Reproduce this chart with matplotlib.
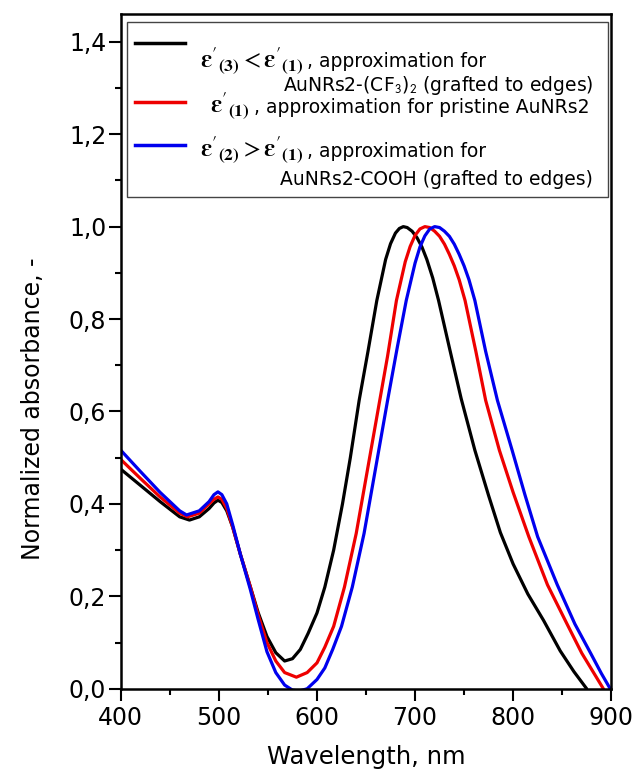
import matplotlib
matplotlib.use("Agg")
import matplotlib.pyplot as plt
from matplotlib.patches import Rectangle
from matplotlib.lines import Line2D
from matplotlib.ticker import MultipleLocator

plt.rcParams['font.family'] = ['DejaVu Sans']
plt.rcParams['mathtext.fontset'] = 'stix'

# ---------------- data ----------------
wl_black = [400, 420, 440, 460, 470, 480, 490, 495, 499, 503, 508, 514, 522, 532, 540, 549,
            558, 567, 575, 583, 591, 600, 608, 617, 626, 634, 643, 652, 661, 670, 675, 680,
            684, 688, 692, 697, 702, 707, 712, 718, 724, 735, 747, 761, 775, 787, 800, 815,
            831, 848, 862, 875]
abs_black = [0.475, 0.44, 0.405, 0.372, 0.365, 0.372, 0.39, 0.402, 0.408, 0.403, 0.385, 0.35,
             0.29, 0.221, 0.165, 0.113, 0.078, 0.060, 0.065, 0.085, 0.12, 0.164, 0.22, 0.30,
             0.40, 0.50, 0.624, 0.73, 0.84, 0.929, 0.963, 0.986, 0.996, 1.0, 0.998, 0.99,
             0.976, 0.956, 0.929, 0.889, 0.84, 0.738, 0.628, 0.516, 0.418, 0.338, 0.27, 0.205,
             0.148, 0.082, 0.037, 0.0]

wl_red = [400, 420, 440, 460, 468, 480, 490, 495, 499, 503, 508, 514, 522, 532, 540, 549, 558,
          567, 579, 590, 600, 608, 617, 628, 640, 652, 664, 672, 681, 690, 695, 700, 705, 710,
          715, 720, 725, 730, 735, 740, 745, 751, 762, 772, 786, 800, 816, 835, 855, 870, 882,
          892]
abs_red = [0.496, 0.455, 0.415, 0.38, 0.372, 0.38, 0.40, 0.41, 0.415, 0.41, 0.39, 0.35, 0.29,
           0.221, 0.16, 0.10, 0.06, 0.035, 0.025, 0.035, 0.056, 0.09, 0.135, 0.22, 0.336, 0.48,
           0.624, 0.72, 0.84, 0.924, 0.957, 0.981, 0.995, 1.0, 0.998, 0.99, 0.979, 0.962,
           0.94, 0.915, 0.885, 0.84, 0.73, 0.624, 0.516, 0.425, 0.329, 0.225, 0.14, 0.077,
           0.035, 0.0]

wl_blue = [400, 420, 440, 460, 467, 480, 490, 495, 499, 503, 508, 514, 522, 532, 540, 549, 558,
           567, 575, 582, 590, 600, 608, 616, 625, 636, 648, 660, 672, 682, 691, 700, 705, 710,
           715, 720, 725, 730, 735, 740, 745, 750, 755, 761, 772, 784, 799, 812, 825, 845, 863,
           879, 890, 899]
abs_blue = [0.516, 0.47, 0.425, 0.385, 0.376, 0.385, 0.405, 0.42, 0.426, 0.42, 0.40, 0.355,
            0.29, 0.215, 0.15, 0.08, 0.035, 0.008, -0.003, -0.005, 0.0, 0.02, 0.045, 0.085,
            0.135, 0.22, 0.336, 0.48, 0.624, 0.74, 0.84, 0.921, 0.956, 0.98, 0.995, 1.0, 0.998,
            0.99, 0.979, 0.962, 0.94, 0.915, 0.885, 0.84, 0.73, 0.624, 0.516, 0.42, 0.329,
            0.225, 0.14, 0.077, 0.033, 0.0]

x_ticks = [400, 500, 600, 700, 800, 900]
x_ticklabels = ["400", "500", "600", "700", "800", "900"]
y_ticks = [0.0, 0.2, 0.4, 0.6, 0.8, 1.0, 1.2, 1.4]
y_ticklabels = ["0,0", "0,2", "0,4", "0,6", "0,8", "1,0", "1,2", "1,4"]

legend_math = [r"$\boldsymbol{\varepsilon}'_{\mathbf{(3)}} < \boldsymbol{\varepsilon}'_{\mathbf{(1)}}$",
               r"$\boldsymbol{\varepsilon}'_{\mathbf{(1)}}$",
               r"$\boldsymbol{\varepsilon}'_{\mathbf{(2)}} > \boldsymbol{\varepsilon}'_{\mathbf{(1)}}$"]
legend_rest = [" , approximation for",
               " , approximation for pristine AuNRs2",
               " , approximation for"]
legend_line2 = [r"AuNRs2-(CF$_\mathsf{3}$)$_\mathsf{2}$ (grafted to edges)",
                None,
                "AuNRs2-COOH (grafted to edges)"]
colors = ["#000000", "#ee0000", "#0000ee"]

# ---------------- figure ----------------
fig = plt.figure(figsize=(6.36, 7.80), dpi=100)
ax = fig.add_axes([0.190, 0.117, 0.771, 0.865])

for wl, ab, c in [(wl_black, abs_black, colors[0]),
                  (wl_red, abs_red, colors[1]),
                  (wl_blue, abs_blue, colors[2])]:
    ax.plot(wl, ab, color=c, lw=2.3, solid_joinstyle='round', solid_capstyle='round')

ax.set_xlim(400, 900)
ax.set_ylim(0, 1.46)
ax.set_xticks(x_ticks)
ax.set_xticklabels(x_ticklabels)
ax.set_yticks(y_ticks)
ax.set_yticklabels(y_ticklabels)
ax.xaxis.set_minor_locator(MultipleLocator(50))
ax.yaxis.set_minor_locator(MultipleLocator(0.1))
ax.tick_params(which='major', direction='out', length=8.5, width=1.5, labelsize=17, pad=4)
ax.tick_params(which='minor', direction='out', length=4.5, width=1.5)
ax.tick_params(axis='y', which='major', pad=2)
ax.tick_params(top=False, right=False, which='both')
for s in ax.spines.values():
    s.set_linewidth(1.8)

ax.set_xlabel("Wavelength, nm", fontsize=17.5)
ax.set_ylabel("Normalized absorbance, -", fontsize=17)
ax.xaxis.set_label_coords(0.5, -0.083)
ax.yaxis.set_label_coords(-0.155, 0.415)

# ---------------- legend (manual, to reproduce the layout) ----------------
ax.add_patch(Rectangle((0.012, 0.729), 0.982, 0.259, transform=ax.transAxes,
                       fill=True, facecolor='white', edgecolor='#444444', lw=1.0, zorder=5))
handle_y = [0.957, 0.870, 0.806]
for y, c in zip(handle_y, colors):
    ax.add_line(Line2D([0.029, 0.131], [y, y], transform=ax.transAxes, color=c, lw=2.5, zorder=6))

math_pos = [(0.161, 0.921), (0.182, 0.854), (0.161, 0.788)]
math_texts = []
for (x, y), m in zip(math_pos, legend_math):
    math_texts.append(ax.text(x, y, m, transform=ax.transAxes, fontsize=18,
                              va='baseline', ha='left', zorder=7))
fig.canvas.draw()
renderer = fig.canvas.get_renderer()
inv = ax.transAxes.inverted()
for t, (x, y), r in zip(math_texts, math_pos, legend_rest):
    bb = t.get_window_extent(renderer)
    x1 = inv.transform((bb.x1, bb.y0))[0]
    ax.text(x1 - 0.004, y, r, transform=ax.transAxes, fontsize=13.5, va='baseline', ha='left', zorder=7)

ax.text(0.963, 0.886, legend_line2[0], transform=ax.transAxes, fontsize=13.5, va='baseline', ha='right', zorder=7)
ax.text(0.963, 0.746, legend_line2[2], transform=ax.transAxes, fontsize=13.5, va='baseline', ha='right', zorder=7)

fig.savefig("out.png", dpi=100)
